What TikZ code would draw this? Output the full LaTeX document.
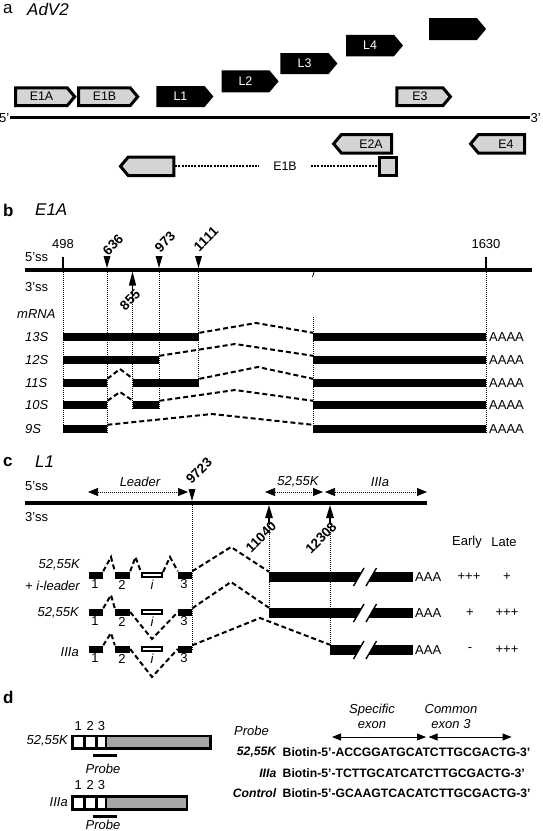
\documentclass[tikz,border=0pt]{standalone}
\usepackage{fontspec}
\setmainfont{Liberation Sans}
\usetikzlibrary{positioning,shapes.symbols,arrows.meta}

\begin{document}
\begin{tikzpicture}[
  x=1pt, y=-1pt,
  every node/.style={inner sep=0pt, font=\fontsize{13}{15}\selectfont},
  panel/.style={anchor=west, font=\fontsize{17}{19}\selectfont\bfseries},
  paneltitle/.style={anchor=west, font=\fontsize{17}{19}\selectfont\itshape},
  lbl/.style={font=\fontsize{13}{15}\selectfont\itshape},
  site/.style={rotate=45, font=\fontsize{13.5}{15}\selectfont\bfseries},
  gene/.style={signal, draw=black, line width=3pt, fill=black!17, signal pointer angle=100,
    font=\fontsize{12.4}{14}\selectfont},
  lategene/.style={signal, signal to=east, fill=black, text=white, signal pointer angle=100,
    font=\fontsize{12.4}{14}\selectfont},
  strand/.style={line width=3.5pt},
  tickmark/.style={line width=1.6pt},
  bar/.style={rectangle, fill=black, anchor=west, minimum height=8pt},
  exon/.style={rectangle, fill=black, minimum height=7pt},
  iexon/.style={rectangle, draw=black, line width=1.6pt, fill=white, minimum height=4.5pt},
  intron/.style={line width=2pt, dash pattern=on 5pt off 3pt},
  guide/.style={line width=0.7pt, dash pattern=on 1pt off 1pt},
  region/.style={guide, {Triangle[length=10pt,width=8pt]}-{Triangle[length=10pt,width=8pt]}},
  acceptor/.style={line width=1.3pt, -{Triangle[length=13pt,width=7.5pt]}},
  linker/.style={line width=2pt, dash pattern=on 2pt off 1.2pt},
  slash/.style={line width=1.4pt},
  probebox/.style={rectangle, fill=black},
  cell/.style={rectangle, fill=white, minimum height=10pt},
  tail/.style={rectangle, fill=black!35, anchor=west, minimum height=10pt},
  seq/.style={anchor=west, font=\fontsize{12.2}{14}\selectfont\bfseries},
  seqname/.style={anchor=east, font=\fontsize{12.2}{14}\selectfont\bfseries\itshape},
  >={Triangle[length=9pt,width=7pt]}
]
\useasboundingbox (0,0) rectangle (542,831);

% a: genome map
\node[panel, font=\fontsize{17}{19}\selectfont] (pa) at (3,9) {a};
\node[paneltitle] (ta) at (27,9) {AdV2};
\coordinate (a5) at (10,117.5);
\coordinate (a3) at (530,117.5);
\draw[strand] (a5) -- (a3);
\node[anchor=east] (a5l) at (9.5,118) {5'};
\node[anchor=west] (a3l) at (530.5,118) {3'};

\node[gene, signal to=east, minimum width=59pt, minimum height=17.6pt] (e1a) at (41.5,96.7) {E1A\hspace{9pt}};
\node[gene, signal to=east, minimum width=59pt, minimum height=17.6pt] (e1b) at (104.5,96.7) {E1B\hspace{9pt}};
\node[gene, signal to=east, minimum width=53.4pt, minimum height=17.6pt] (e3) at (420,96.7) {E3\hspace{9pt}};
\node[lategene, minimum width=57pt, minimum height=21pt] (l1) at (180.5,96.5) {L1\hspace{9pt}};
\node[lategene, minimum width=57pt, minimum height=22pt] (l2) at (245.5,81.3) {L2\hspace{9pt}};
\node[lategene, minimum width=57pt, minimum height=21pt] (l3) at (304.5,63.5) {L3\hspace{9pt}};
\node[lategene, minimum width=57pt, minimum height=21.5pt] (l4) at (370,45.5) {L4\hspace{9pt}};
\node[lategene, minimum width=57pt, minimum height=22pt] (l5) at (453,29) {};
\node[gene, signal to=west, minimum width=58pt, minimum height=18.5pt] (e2a) at (366.5,143.8) {\hspace{9pt}E2A};
\node[gene, signal to=west, minimum width=54pt, minimum height=18.5pt] (e4) at (501.5,143.8) {\hspace{9pt}E4};
\node[gene, signal to=west, minimum width=53.3pt, minimum height=18.5pt] (e1bx) at (151,166.3) {};
\node[gene, rectangle, minimum width=16.5pt, minimum height=18.5pt] (e1by) at (388,166.3) {};
\node[inner xsep=14pt, font=\fontsize{12.4}{14}\selectfont] (e1bl) at (285,166.3) {E1B};
\draw[linker] (e1bx.east) -- (e1bl.west);
\draw[linker] (e1bl.east) -- (e1by.west);

% b: E1A splicing
\node[panel] (pb) at (3,210) {b};
\node[paneltitle] (tb) at (35,210) {E1A};
\node[anchor=west] (b5) at (25,257) {5'ss};
\node[anchor=west] (b3) at (25,287) {3'ss};
\node[lbl, anchor=west] (bm) at (17,314) {mRNA};
\draw[strand] (25,270) -- (532,270);

\draw[guide] (63,270) -- (63,433);
\draw[guide] (107,270) -- (107,433);
\draw[guide] (132.5,298) -- (132.5,409);
\draw[guide] (159,270) -- (159,409);
\draw[guide] (198.5,270) -- (198.5,387);
\draw[guide] (313,317) -- (313,433);
\draw[guide] (486,270) -- (486,433);
\draw[line width=0.8pt] (314,272) -- (312.5,277);

\draw[tickmark] (63,257) -- (63,270);
\node (n498) at (63,244) {498};
\draw[tickmark] (486,257) -- (486,270);
\node (n1630) at (486,244) {1630};
\fill (103.5,256) -- (110.5,256) -- (107,268) -- cycle;
\node[site] (n636) at (113,245) {636};
\fill (155.5,256) -- (162.5,256) -- (159,268) -- cycle;
\node[site] (n973) at (165,242) {973};
\fill (195,256) -- (202,256) -- (198.5,268) -- cycle;
\node[site] (n1111) at (206,239) {1111};
\draw[line width=1.3pt, -{Triangle[length=14pt,width=7pt]}] (132.5,300) -- (132.5,271.5);
\node[site] (n855) at (130,300) {855};

\node[bar, minimum width=136pt] (x13a) at (63,337) {};
\node[bar, minimum width=173pt] (x13b) at (313,337) {};
\node[lbl, anchor=west] (r13) at (25,337) {13S};
\node[anchor=west] (p13) at (489,337) {AAAA};
\draw[intron] (x13a.north east) -- (256,323) -- (x13b.north west);

\node[bar, minimum width=96pt] (x12a) at (63,360) {};
\node[bar, minimum width=173pt] (x12b) at (313,360) {};
\node[lbl, anchor=west] (r12) at (25,360) {12S};
\node[anchor=west] (p12) at (489,360) {AAAA};
\draw[intron] (x12a.north east) -- (235,344) -- (x12b.north west);

\node[bar, minimum width=44pt] (x11a) at (63,383) {};
\node[bar, minimum width=66pt] (x11c) at (133,383) {};
\node[bar, minimum width=173pt] (x11b) at (313,383) {};
\node[lbl, anchor=west] (r11) at (25,383) {11S};
\node[anchor=west] (p11) at (489,383) {AAAA};
\draw[intron] (x11a.north east) -- (120,369) -- (x11c.north west);
\draw[intron] (x11c.north east) -- (258,367) -- (x11b.north west);

\node[bar, minimum width=44pt] (x10a) at (63,405) {};
\node[bar, minimum width=26pt] (x10c) at (133,405) {};
\node[bar, minimum width=173pt] (x10b) at (313,405) {};
\node[lbl, anchor=west] (r10) at (25,405) {10S};
\node[anchor=west] (p10) at (489,405) {AAAA};
\draw[intron] (x10a.north east) -- (120,392) -- (x10c.north west);
\draw[intron] (x10c.north east) -- (235,390) -- (x10b.north west);

\node[bar, minimum width=44pt] (x9a) at (63,429) {};
\node[bar, minimum width=173pt] (x9b) at (313,429) {};
\node[lbl, anchor=west] (r9) at (25,429) {9S};
\node[anchor=west] (p9) at (489,429) {AAAA};
\draw[intron] (x9a.north east) -- (212,414) -- (x9b.north west);

% c: L1 splicing
\node[panel] (pc) at (3,462) {c};
\node[paneltitle] (tc) at (35,462) {L1};
\node[anchor=west] (c5) at (25,486) {5'ss};
\node[anchor=west] (c3) at (25,517) {3'ss};
\draw[strand] (25,503) -- (427,503);

\draw[region] (88,492) -- (188,492);
\node[lbl] (leader) at (140,482) {Leader};
\draw[region] (265,492) -- (323,492);
\node[lbl] (k5255) at (298,482) {52,55K};
\draw[region] (325,492) -- (427,492);
\node[lbl] (k3a) at (380,482) {IIIa};

\draw[guide] (192,503) -- (192,650);
\draw[guide] (269,520) -- (269,613);
\draw[guide] (330,520) -- (330,650);
\fill (188.5,489) -- (195.5,489) -- (192,501) -- cycle;
\node[site] (n9723) at (199,471) {9723};
\draw[acceptor] (269,524) -- (269,505);
\node[site] (n11040) at (261,537) {11040};
\draw[acceptor] (330,524) -- (330,505);
\node[site] (n12308) at (321,538) {12308};

\node[lbl, anchor=east] (q1) at (80,565) {52,55K};
\node[lbl, anchor=east] (q1b) at (80,586) {+ i-leader};
\node[lbl, anchor=east] (q2) at (79,613) {52,55K};
\node[lbl, anchor=east] (q3) at (79,652) {IIIa};

\node[exon, minimum width=14pt] (c11) at (96,575) {};
\node[exon, minimum width=15pt] (c12) at (122.5,575) {};
\node[iexon, minimum width=20.5pt] (c1i) at (152,575) {};
\node[exon, minimum width=14pt] (c13) at (185,575) {};
\node[bar, minimum height=10pt, minimum width=144pt] (c1r) at (269,577) {};
\draw[intron] (c11.north east) -- (111,557) -- (c12.north west);
\draw[intron] (c12.north east) -- (135.5,557) -- (c1i.north west);
\draw[intron] (c1i.north east) -- (170,557) -- (c13.north west);
\draw[intron] (c13.north east) -- (231,547) -- (c1r.north west);
\node (c1n1) at (95,584.5) {1};
\node (c1n2) at (122,584.5) {2};
\node[lbl] (c1ni) at (152,584.5) {i};
\node (c1n3) at (184,584.5) {3};

\node[exon, minimum width=14pt] (c21) at (96,612) {};
\node[exon, minimum width=15pt] (c22) at (122.5,612) {};
\node[iexon, minimum width=20.5pt] (c2i) at (152,612) {};
\node[exon, minimum width=14pt] (c23) at (185,612) {};
\node[bar, minimum height=10pt, minimum width=144pt] (c2r) at (269,613) {};
\draw[intron] (c21.north east) -- (111,595) -- (c22.north west);
\draw[intron] (c22.east) -- (152,639) -- (c23.west);
\draw[intron] (c23.north east) -- (231,582) -- (c2r.north west);
\node (c2n1) at (95,621.5) {1};
\node (c2n2) at (122,621.5) {2};
\node[lbl] (c2ni) at (152,621.5) {i};
\node (c2n3) at (184,621.5) {3};

\node[exon, minimum width=14pt] (c31) at (96,649) {};
\node[exon, minimum width=15pt] (c32) at (122.5,649) {};
\node[iexon, minimum width=20.5pt] (c3i) at (152,649) {};
\node[exon, minimum width=14pt] (c33) at (185,649) {};
\node[bar, minimum height=10pt, minimum width=83pt] (c3r) at (330,650) {};
\draw[intron] (c31.north east) -- (111,633) -- (c32.north west);
\draw[intron] (c32.east) -- (152,677) -- (c33.west);
\draw[intron] (c33.north east) -- (260,618) -- (c3r.north west);
\node (c3n1) at (95,658.5) {1};
\node (c3n2) at (122,658.5) {2};
\node[lbl] (c3ni) at (152,658.5) {i};
\node (c3n3) at (184,658.5) {3};

% breaks in the long exons
\fill[white] (353.5,586) -- (364,568) -- (376.5,568) -- (366,586) -- cycle;
\draw[slash] (353.5,586) -- (364,568);
\draw[slash] (366,586) -- (376.5,568);
\fill[white] (353.5,622) -- (364,604) -- (376.5,604) -- (366,622) -- cycle;
\draw[slash] (353.5,622) -- (364,604);
\draw[slash] (366,622) -- (376.5,604);
\fill[white] (353.5,659) -- (364,641) -- (376.5,641) -- (366,659) -- cycle;
\draw[slash] (353.5,659) -- (364,641);
\draw[slash] (366,659) -- (376.5,641);

\node[anchor=west] (c1a) at (415,577) {AAA};
\node[anchor=west] (c2a) at (415,613) {AAA};
\node[anchor=west] (c3a) at (415,650) {AAA};
\node (early) at (467,542) {Early};
\node (late) at (504,542) {Late};
\node (e1) at (469,577) {+++};
\node (la1) at (507,577) {+};
\node (e2) at (470,613) {+};
\node (la2) at (507,613) {+++};
\node (e3m) at (470,650) {-};
\node (la3) at (507,650) {+++};

% d: probes
\node[panel] (pd) at (3,697) {d};
\node[probebox, minimum width=140.5pt, minimum height=15.4pt] (bx1) at (141.25,742.3) {};
\node[cell, minimum width=9.4pt] (bx1a) at (78.3,742.3) {};
\node[cell, minimum width=9.3pt] (bx1b) at (90.35,742.3) {};
\node[cell, minimum width=7.6pt] (bx1c) at (101.6,742.3) {};
\node[tail, minimum width=101.8pt] (bx1t) at (107.2,742.3) {};
\node[lbl, anchor=east] (bx1l) at (68,741) {52,55K};
\node (bx1n1) at (78.3,726) {1};
\node (bx1n2) at (90.3,726) {2};
\node (bx1n3) at (101.6,726) {3};
\draw[line width=3pt] (93,755) -- (117,755);
\node[lbl] (pr1) at (103,769) {Probe};

\node[probebox, minimum width=117.4pt, minimum height=15.4pt] (bx2) at (129.7,802.8) {};
\node[cell, minimum width=9.4pt] (bx2a) at (78.3,802.8) {};
\node[cell, minimum width=9.3pt] (bx2b) at (90.35,802.8) {};
\node[cell, minimum width=7.6pt] (bx2c) at (101.6,802.8) {};
\node[tail, minimum width=78.6pt] (bx2t) at (107.2,802.8) {};
\node[lbl, anchor=east] (bx2l) at (68,802) {IIIa};
\node (bx2n1) at (78.3,785) {1};
\node (bx2n2) at (90.3,785) {2};
\node (bx2n3) at (101.6,785) {3};
\draw[line width=3pt] (93,816) -- (117,816);
\node[lbl] (pr2) at (103,825) {Probe};

\node[lbl] (probehd) at (251.5,731) {Probe};
\node[lbl, align=center] (spec) at (372,716.5) {Specific\\exon};
\node[lbl, align=center] (comm) at (451,716.5) {Common\\exon 3};
\draw[<->, line width=0.8pt] (332,737) -- (426,737);
\draw[<->, line width=0.8pt] (428.6,737) -- (511.6,737);

\node[seqname] (s1n) at (276.5,752) {52,55K};
\node[seq] (s1) at (282.5,752) {Biotin-5'-ACCGGATGCATCTTGCGACTG-3'};
\node[seqname] (s2n) at (276.5,773.6) {IIIa};
\node[seq] (s2) at (282.5,773.6) {Biotin-5'-TCTTGCATCATCTTGCGACTG-3'};
\node[seqname] (s3n) at (276.5,793) {Control};
\node[seq] (s3) at (282.5,793) {Biotin-5'-GCAAGTCACATCTTGCGACTG-3'};
\end{tikzpicture}
\end{document}
